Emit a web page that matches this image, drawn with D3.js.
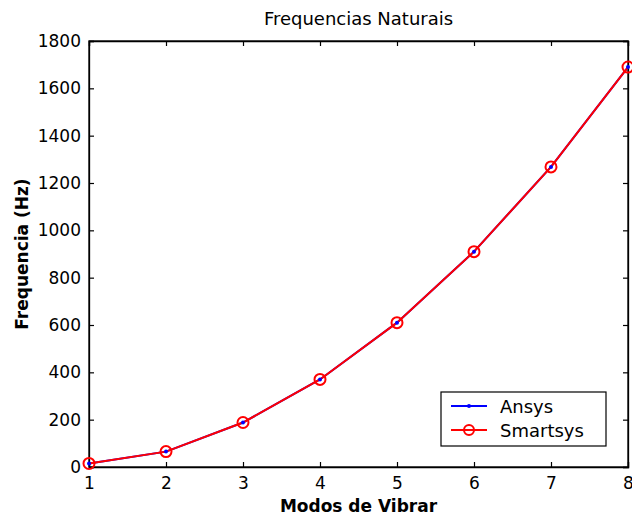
<!DOCTYPE html>
<html>
<head>
<meta charset="utf-8">
<script src="https://cdn.jsdelivr.net/npm/d3@7"></script>
<style>
  body { margin: 0; background: #fff; }
  svg { font-family: "DejaVu Sans", Arial, sans-serif; }
</style>
</head>
<body>
<div id="chart"></div>
<script>
// data
var modes = [1, 2, 3, 4, 5, 6, 7, 8];
var ansys = [15, 65, 188, 370, 610, 910, 1268, 1690];
var smartsys = [15, 65, 188, 370, 610, 910, 1268, 1690];
var yTicks = [0, 200, 400, 600, 800, 1000, 1200, 1400, 1600, 1800];

var svgWidth = 632, svgHeight = 519;
var margin = { top: 41, right: 4, bottom: 52, left: 89 };
var width = svgWidth - margin.left - margin.right;
var height = svgHeight - margin.top - margin.bottom;

var svg = d3.select("#chart").append("svg")
    .attr("width", svgWidth)
    .attr("height", svgHeight);

var chartGroup = svg.append("g")
    .attr("transform", `translate(${margin.left}, ${margin.top})`);

var xScale = d3.scaleLinear().domain([1, 8]).range([0, width]);
var yScale = d3.scaleLinear().domain([0, 1800]).range([height, 0]);

// axes, ticks pointing inward like matlab
var xAxis = d3.axisBottom(xScale).tickValues(modes).tickSize(-5).tickPadding(10).tickFormat(d3.format("d"));
var yAxis = d3.axisLeft(yScale).tickValues(yTicks).tickSize(-5).tickPadding(8).tickFormat(d3.format("d"));

chartGroup.append("g")
    .attr("transform", `translate(0,${height})`)
    .call(xAxis);
chartGroup.append("g").call(yAxis);

// top and right ticks
chartGroup.append("g").call(d3.axisTop(xScale).tickValues(modes).tickSize(-5).tickFormat(""));
chartGroup.append("g").attr("transform", `translate(${width},0)`)
    .call(d3.axisRight(yScale).tickValues(yTicks).tickSize(-5).tickFormat(""));

chartGroup.selectAll(".domain").attr("stroke", "#000").attr("stroke-width", 1.3);
chartGroup.selectAll(".tick line").attr("stroke", "#000").attr("stroke-width", 1.2);
chartGroup.selectAll(".tick text").attr("font-size", 17).attr("fill", "#000")
    .attr("font-family", "'DejaVu Sans', Arial, sans-serif");

chartGroup.append("rect")
    .attr("width", width).attr("height", height)
    .attr("fill", "none").attr("stroke", "#000").attr("stroke-width", 1.3);

var line = d3.line()
    .x(function (d, i) { return xScale(modes[i]); })
    .y(function (d) { return yScale(d); });

// Ansys (blue)
chartGroup.append("path")
    .datum(ansys)
    .attr("d", line)
    .attr("fill", "none")
    .attr("stroke", "#0000ff")
    .attr("stroke-width", 2);

// Smartsys (red)
chartGroup.append("path")
    .datum(smartsys)
    .attr("d", line)
    .attr("fill", "none")
    .attr("stroke", "#ff0000")
    .attr("stroke-width", 2);

chartGroup.selectAll(".smart")
    .data(smartsys)
    .enter()
    .append("circle")
    .attr("cx", (d, i) => xScale(modes[i]))
    .attr("cy", d => yScale(d))
    .attr("r", 5.5)
    .attr("fill", "none")
    .attr("stroke", "#ff0000")
    .attr("stroke-width", 2);

chartGroup.selectAll(".ans")
    .data(ansys)
    .enter()
    .append("circle")
    .attr("cx", (d, i) => xScale(modes[i]))
    .attr("cy", d => yScale(d))
    .attr("r", 2)
    .attr("fill", "#0000ff");

// title and labels
svg.append("text")
    .attr("x", margin.left + width / 2)
    .attr("y", 25)
    .attr("text-anchor", "middle")
    .attr("font-size", 18)
    .text("Frequencias Naturais");

svg.append("text")
    .attr("x", margin.left + width / 2)
    .attr("y", 512)
    .attr("text-anchor", "middle")
    .attr("font-size", 17)
    .attr("font-weight", "bold")
    .text("Modos de Vibrar");

svg.append("text")
    .attr("transform", "rotate(-90)")
    .attr("x", -(margin.top + height / 2))
    .attr("y", 28)
    .attr("text-anchor", "middle")
    .attr("font-size", 17)
    .attr("font-weight", "bold")
    .text("Frequencia (Hz)");

// legend
var legend = svg.append("g").attr("transform", "translate(441,392)");
legend.append("rect")
    .attr("width", 165).attr("height", 54)
    .attr("fill", "#fff").attr("stroke", "#000").attr("stroke-width", 1.2);

legend.append("line").attr("x1", 10).attr("x2", 46).attr("y1", 14).attr("y2", 14)
    .attr("stroke", "#0000ff").attr("stroke-width", 2);
legend.append("circle").attr("cx", 28).attr("cy", 14).attr("r", 2).attr("fill", "#0000ff");
legend.append("text").attr("x", 59).attr("y", 21).attr("font-size", 18).text("Ansys");

legend.append("line").attr("x1", 10).attr("x2", 46).attr("y1", 38).attr("y2", 38)
    .attr("stroke", "#ff0000").attr("stroke-width", 2);
legend.append("circle").attr("cx", 28).attr("cy", 38).attr("r", 5)
    .attr("fill", "none").attr("stroke", "#ff0000").attr("stroke-width", 2);
legend.append("text").attr("x", 59).attr("y", 45).attr("font-size", 18).text("Smartsys");
</script>
</body>
</html>
